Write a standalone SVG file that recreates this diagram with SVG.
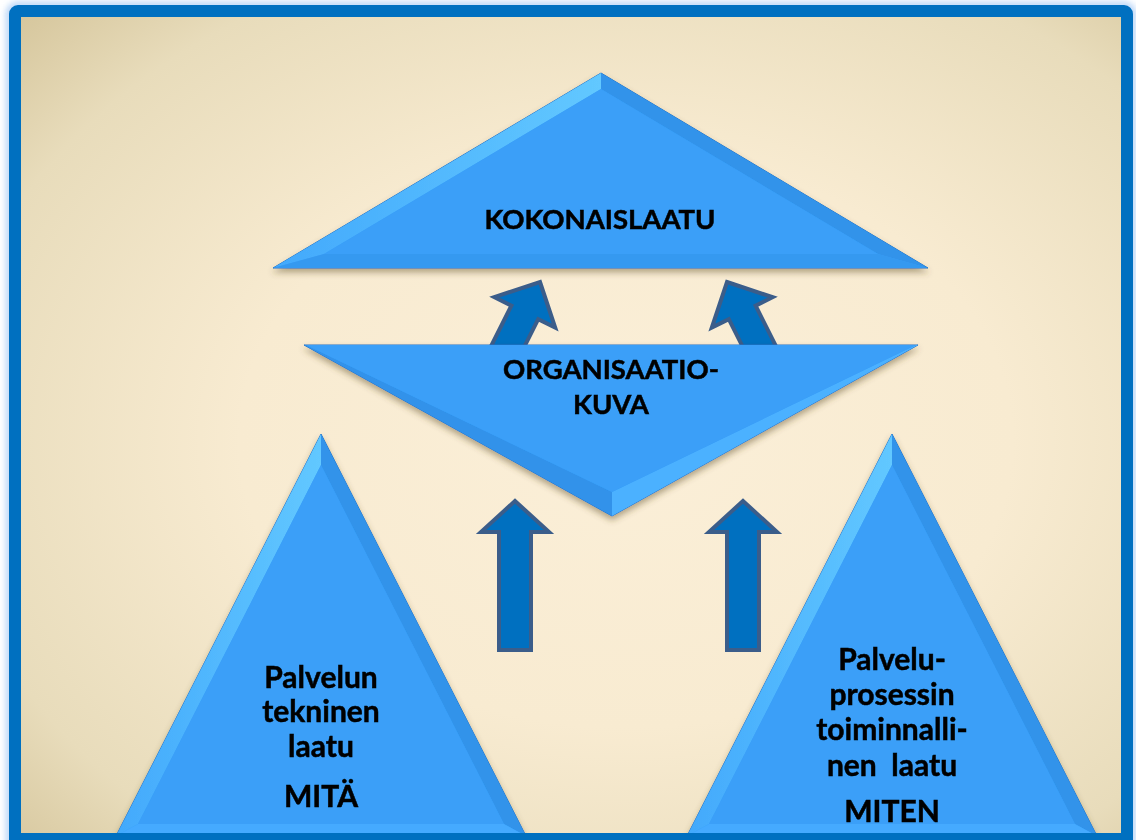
<svg xmlns="http://www.w3.org/2000/svg" width="1136" height="840" viewBox="0 0 1136 840">
<defs>
  <radialGradient id="bg" cx="0.55" cy="0.52" r="0.78">
    <stop offset="0" stop-color="#fbefd8"/>
    <stop offset="0.45" stop-color="#f8ebd1"/>
    <stop offset="0.8" stop-color="#e8dcbb"/>
    <stop offset="1" stop-color="#d3c398"/>
  </radialGradient>
  <linearGradient id="hiL" x1="0" y1="0" x2="1" y2="0">
    <stop offset="0" stop-color="#42a9fc"/>
    <stop offset="1" stop-color="#62c8ff"/>
  </linearGradient>
  <filter id="shadow" x="-10%" y="-10%" width="120%" height="130%">
    <feDropShadow dx="0" dy="4" stdDeviation="3" flood-color="#5a4828" flood-opacity="0.45"/>
  </filter>
  <filter id="glow" x="-5%" y="-5%" width="110%" height="110%">
    <feGaussianBlur stdDeviation="3"/>
  </filter>
  <style>
    .base{fill:#3a9ff8;stroke:#2573c4;stroke-width:1}
    .inner{fill:#3a9ff8}
    .bl{fill:url(#hiL)}
    .br{fill:#3193ea}
    .bb{fill:#3699f0}
    .arrow{fill:#0070c0;stroke:#3b5d8a;stroke-width:4;stroke-linejoin:miter}
    .t{font-family:Lato,"Open Sans","Liberation Sans",sans-serif;font-weight:bold;font-size:27.5px;fill:#000;stroke:#000;stroke-width:0.5;text-anchor:middle}
    .s{font-size:30px}
  </style>
</defs>

<rect x="0" y="0" width="1136" height="840" fill="#ffffff"/>
<rect x="21" y="17" width="1100" height="816" fill="url(#bg)"/>

<g id="connectors">
  <polygon class="arrow" transform="translate(540,282) rotate(26.6)" points="0,0 34,34 15,34 15,95 -15,95 -15,34 -34,34"/>
  <polygon class="arrow" transform="translate(727,282) rotate(-26.6)" points="0,0 34,34 15,34 15,95 -15,95 -15,34 -34,34"/>
  <polygon class="arrow" points="515,501 549,532 531,532 531,650 499,650 499,532 481,532"/>
  <polygon class="arrow" points="743,501 777,532 759,532 759,650 727,650 727,532 709,532"/>
</g>

<g id="node-kokonaislaatu" filter="url(#shadow)">
  <polygon class="base" points="601,73 273,268 928,268"/>
  <polygon class="bl" points="601,73 273,268 324,254 601,89"/>
  <polygon class="br" points="601,73 928,268 878,254 601,89"/>
  <polygon class="bb" points="273,268 928,268 878,254 324,254"/>
  <polygon class="inner" points="601,89 324,254 878,254"/>
  <text class="t" x="600" y="229">KOKONAISLAATU</text>
</g>

<g id="node-organisaatiokuva" filter="url(#shadow)">
  <polygon class="base" points="304,345 918,345 612,516"/>
  <polygon fill="#3192ea" points="304,345 612,516 612,492 306,345"/>
  <polygon fill="#4cb1ff" points="918,345 612,516 612,492 916,345"/>
  <polygon class="inner" points="306,345 916,345 612,492"/>
  <text class="t" x="611" y="379">ORGANISAATIO-</text>
  <text class="t" x="611" y="414">KUVA</text>
</g>

<g id="node-tekninen" filter="url(#shadow)">
  <polygon class="base" points="321,434 116,836 526,836"/>
  <polygon class="bl" points="321,434 116,836 138,824 321,465"/>
  <polygon class="br" points="321,434 526,836 504,824 321,465"/>
  <polygon fill="#44aaff" points="116,836 526,836 504,824 138,824"/>
  <polygon class="inner" points="321,465 138,824 504,824"/>
  <text class="t s" x="321" y="688">Palvelun</text>
  <text class="t s" x="321" y="722">tekninen</text>
  <text class="t s" x="321" y="757">laatu</text>
  <text class="t s" x="321" y="807">MITÄ</text>
</g>

<g id="node-toiminnallinen" filter="url(#shadow)">
  <polygon class="base" points="892,434 687,836 1097,836"/>
  <polygon class="bl" points="892,434 687,836 709,824 892,465"/>
  <polygon class="br" points="892,434 1097,836 1075,824 892,465"/>
  <polygon fill="#44aaff" points="687,836 1097,836 1075,824 709,824"/>
  <polygon class="inner" points="892,465 709,824 1075,824"/>
  <text class="t s" x="892" y="670">Palvelu-</text>
  <text class="t s" x="892" y="705">prosessin</text>
  <text class="t s" x="892" y="740">toiminnalli-</text>
  <text class="t s" x="892" y="776" xml:space="preserve">nen  laatu</text>
  <text class="t s" x="892" y="822">MITEN</text>
</g>

<g id="frame">
  <rect x="9" y="5" width="1124" height="850" rx="9" fill="none" stroke="#9cc4f4" stroke-width="6" filter="url(#glow)" opacity="0.8"/>
  <path fill="#0070c0" fill-rule="evenodd" d="M18,5 H1124 A9,9 0 0 1 1133,14 V860 H9 V14 A9,9 0 0 1 18,5 Z M21,17 V833 H1121 V17 Z"/>
</g>
</svg>
